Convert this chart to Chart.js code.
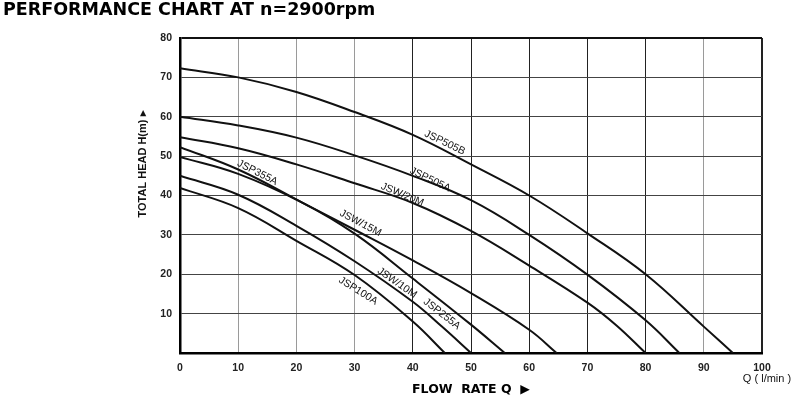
<!DOCTYPE html>
<html>

<head>
    <meta charset='utf-8'>
    <title>Performance chart</title>
    <script src="https://cdn.jsdelivr.net/npm/chart.js@4.4.0/dist/chart.umd.min.js"></script>
    <style>
        body { margin: 0; background: #fff; }
    </style>
</head>

<body>
    <canvas id="chart" width="800" height="400"></canvas>
    <script>
        // flow Q (l/min) and head H (m)
        var q505B = [0, 10, 20, 30, 40, 50, 60, 70, 80, 90, 95];
        var h505B = [72.3, 70.0, 66.3, 61.2, 55.4, 47.9, 40.0, 30.4, 20.0, 6.7, 0];
        var q505A = [0, 10, 20, 30, 40, 50, 60, 70, 80, 85.8];
        var h505A = [60.0, 57.8, 54.7, 50.2, 45.0, 38.8, 30.0, 19.9, 8.3, 0];
        var q20M = [0, 10, 20, 30, 40, 50, 60, 70, 75, 80];
        var h20M = [54.8, 52.0, 47.9, 43.1, 38.1, 31.0, 22.2, 12.8, 7.0, 0];
        var q355A = [0, 10, 21, 30, 40, 50, 60, 64.7];
        var h355A = [52.3, 46.6, 38.2, 31.3, 23.5, 15.2, 5.9, 0];
        var q15M = [0, 10, 21, 30, 40, 50, 55.8];
        var h15M = [49.8, 45.5, 38.2, 30.3, 18.9, 7.2, 0];
        var q10M = [0, 10, 20, 30, 40, 45, 50];
        var h10M = [45.0, 40.2, 32.3, 23.3, 13.0, 6.7, 0];
        var q100A = [0, 10, 20, 30, 40, 45.5];
        var h100A = [41.9, 36.8, 28.5, 19.8, 8.0, 0];

        var seriesNames = ['JSP505B', 'JSP505A', 'JSW/20M', 'JSP355A', 'JSW/15M', 'JSW/10M', 'JSP100A'];
        var seriesQ = [q505B, q505A, q20M, q355A, q15M, q10M, q100A];
        var seriesH = [h505B, h505A, h20M, h355A, h15M, h10M, h100A];

        // curve tags: text, where it sits (Q, H) and its slant
        var tagText = ['JSP505B', 'JSP505A', 'JSW/20M', 'JSP355A', 'JSW/15M', 'JSW/10M', 'JSP255A', 'JSP100A'];
        var tagQ = [45.5, 43.0, 38.2, 13.3, 31.0, 37.3, 45.0, 30.6];
        var tagH = [53.4, 44.0, 40.2, 45.8, 33.0, 17.8, 9.9, 15.8];
        var tagAngle = [26, 26, 23, 27, 28, 35, 38, 32];

        var datasets = seriesNames.map(function (name, i) {
            return {
                label: name,
                data: seriesQ[i].map(function (q, j) { return { x: q, y: seriesH[i][j] }; }),
                borderColor: '#111',
                borderWidth: 2,
                pointRadius: 0,
                fill: false,
                tension: 0.4
            };
        });

        var extras = {
            id: 'extras',
            afterDatasetsDraw: function (chart) {
                var ctx = chart.ctx;
                var xs = chart.scales.x, ys = chart.scales.y;
                ctx.save();
                ctx.fillStyle = '#111';
                ctx.font = '10.5px "Liberation Sans", Arial, sans-serif';
                ctx.textAlign = 'center';
                ctx.textBaseline = 'middle';
                for (var i = 0; i < tagText.length; i++) {
                    ctx.save();
                    ctx.translate(xs.getPixelForValue(tagQ[i]), ys.getPixelForValue(tagH[i]));
                    ctx.rotate(tagAngle[i] * Math.PI / 180);
                    ctx.fillText(tagText[i], 0, 0);
                    ctx.restore();
                }
                // y axis title
                ctx.save();
                ctx.font = 'bold 11px "Liberation Sans", Arial, sans-serif';
                ctx.translate(143, 164);
                ctx.rotate(-Math.PI / 2);
                ctx.fillText('TOTAL HEAD H(m) \u25B8', 0, 0);
                ctx.restore();
                // unit under the x axis end
                ctx.font = '11px "Liberation Sans", Arial, sans-serif';
                ctx.fillText('Q ( l/min )', 767, 379);
                ctx.restore();
            }
        };

        var ctx = document.getElementById('chart').getContext('2d');
        var chart = new Chart(ctx, {
            type: 'line',
            data: { datasets: datasets },
            plugins: [extras],
            options: {
                responsive: false,
                animation: false,
                layout: { padding: { left: 3, right: 38, top: 0, bottom: 0 } },
                plugins: {
                    legend: { display: false },
                    tooltip: { enabled: false },
                    title: {
                        display: true,
                        text: 'PERFORMANCE CHART AT n=2900rpm',
                        align: 'start',
                        color: '#000',
                        font: { family: '"DejaVu Sans", sans-serif', size: 17.5, weight: 'bold', lineHeight: 1.2 },
                        padding: { top: 0, bottom: 17 }
                    }
                },
                scales: {
                    x: {
                        type: 'linear',
                        min: 0,
                        max: 100,
                        afterFit: function (scale) { scale.height = 47; },
                        ticks: {
                            stepSize: 10,
                            padding: 9,
                            color: '#222',
                            font: { family: '"Liberation Sans", Arial, sans-serif', size: 10.5, weight: 'bold' }
                        },
                        grid: {
                            drawTicks: false,
                            color: function (c) {
                                var v = c.tick && c.tick.value;
                                return (v >= 40 && v <= 80) || v === 100 ? '#222' : '#9a9a9a';
                            },
                            lineWidth: function (c) { return c.tick && c.tick.value === 100 ? 2 : 1; }
                        },
                        border: { color: '#000', width: 2.5 },
                        title: {
                            display: true,
                            text: 'FLOW  RATE Q  \u25B6',
                            color: '#000',
                            font: { family: '"DejaVu Sans", sans-serif', size: 12.5, weight: 'bold' },
                            padding: { top: 0, bottom: 3 }
                        }
                    },
                    y: {
                        min: 0,
                        max: 80,
                        afterFit: function (scale) { scale.width = 177; },
                        ticks: {
                            stepSize: 10,
                            padding: 8,
                            color: '#222',
                            font: { family: '"Liberation Sans", Arial, sans-serif', size: 10.5, weight: 'bold' },
                            callback: function (v) { return v === 0 ? '' : v; }
                        },
                        grid: {
                            drawTicks: false,
                            color: function (c) { return c.tick && c.tick.value === 80 ? '#111' : '#444'; },
                            lineWidth: function (c) { return c.tick && c.tick.value === 80 ? 2 : 1; }
                        },
                        border: { color: '#000', width: 2.5 }
                    }
                }
            }
        });
    </script>
</body>

</html>
